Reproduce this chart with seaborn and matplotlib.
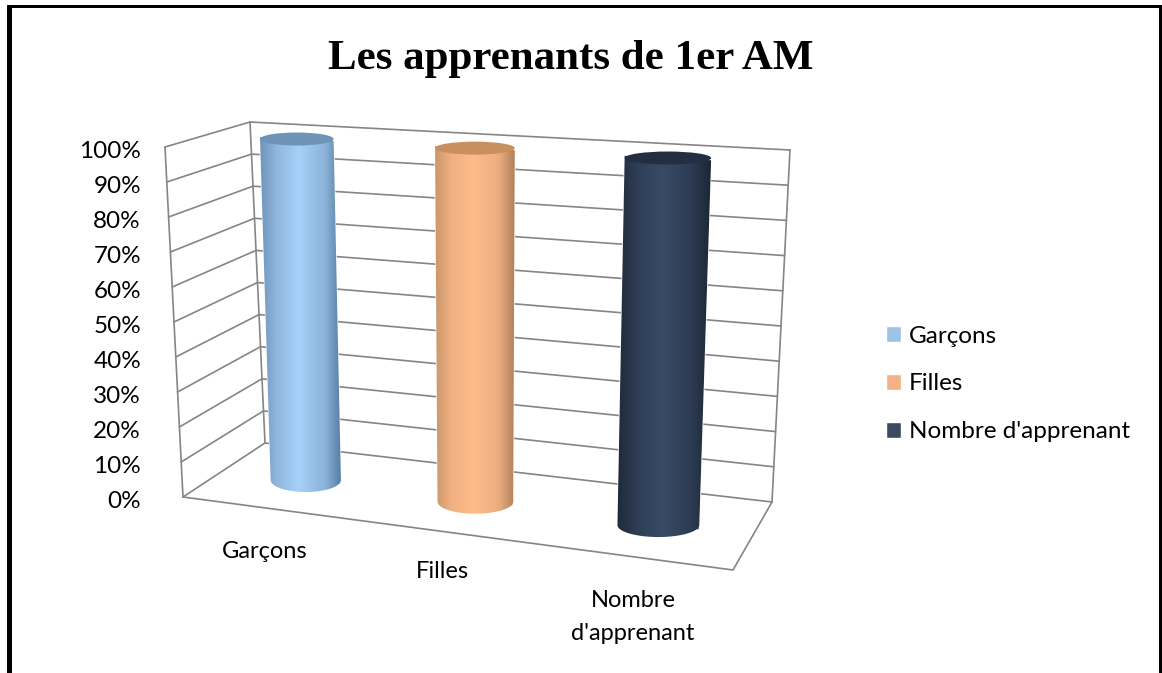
import numpy as np
import pandas as pd
import matplotlib
matplotlib.use('Agg')
import matplotlib.pyplot as plt
import seaborn as sns
from matplotlib.colors import LinearSegmentedColormap
from matplotlib.patches import Ellipse, Polygon
from matplotlib.transforms import Transform

# data
categories = ['Garçons', 'Filles', "Nombre d'apprenant"]
values = [100, 100, 100]
axis_labels = ['Garçons', 'Filles', "Nombre\nd'apprenant"]
grid_levels = [0, 10, 20, 30, 40, 50, 60, 70, 80, 90, 100]
title = 'Les apprenants de 1er AM'

# colours
legend_colors = ['#9DC3E6', '#F4B183', '#3B4A63']
side_colors = [['#6F95BC', '#8FB6DE', '#A6D1F8', '#8DB4DA', '#587FA3'],
               ['#C9976C', '#F0B080', '#FFBC8A', '#EBAD80', '#B08059'],
               ['#1F2A3A', '#2E3D55', '#384B66', '#2C3B52', '#1D2735']]
top_colors = ['#6F93B6', '#C98F5F', '#232F40']
GRID = '#858585'


def solve_h(src, dst):
    # homography from (category, value) to picture pixels
    a, b = [], []
    for (x, y), (u, v) in zip(src, dst):
        a.append([x, y, 1, 0, 0, 0, -u * x, -u * y])
        a.append([0, 0, 0, x, y, 1, -v * x, -v * y])
        b += [u, v]
    return np.append(np.linalg.solve(np.array(a), np.array(b)), 1).reshape(3, 3)


H = solve_h([(0, 0), (2, 0), (0, 100), (2, 100)],
            [(305.5, 480), (658, 525), (296.5, 139), (667.5, 158)])


class Proj(Transform):
    input_dims = 2
    output_dims = 2

    def transform_non_affine(self, xy):
        xy = np.asarray(xy, dtype=float)
        p = np.c_[xy, np.ones(len(xy))] @ H.T
        return p[:, :2] / p[:, 2:]


proj = Proj()

sns.set_theme(style='white')
plt.rcParams['font.family'] = ['Lato', 'DejaVu Sans']
plt.rcParams['text.color'] = 'black'

fig = plt.figure(figsize=(11.62, 6.73), dpi=100)
ax = fig.add_axes([0, 0, 1, 1])

df = pd.DataFrame({'cat': categories, 'val': values})
sns.barplot(data=df, x='cat', y='val', hue='cat', palette=legend_colors,
            width=0.43, saturation=1, ax=ax, legend=True, zorder=3)

# axes now runs in picture pixels, bars go through the projection
trans = proj + ax.transData
for bar in ax.patches:
    bar.set_transform(trans)

# frame around the picture
ax.fill_between([7, 12], 5, 673, color='black', lw=0)
ax.fill_between([7, 1162], 5, 8, color='black', lw=0)
ax.fill_between([1159, 1162], 5, 673, color='black', lw=0)

# walls and floor
fl, bl, br, fr = (183, 497), (265, 443), (772, 502), (733, 570)
tfl, tbl, tbr = (165, 147), (250, 122), (790, 150)
for v in grid_levels:
    t = v / 100
    p0 = np.array(fl) + t * (np.array(tfl) - np.array(fl))
    p1 = np.array(bl) + t * (np.array(tbl) - np.array(bl))
    p2 = np.array(br) + t * (np.array(tbr) - np.array(br))
    ax.plot([p0[0], p1[0], p2[0]], [p0[1], p1[1], p2[1]], color=GRID, lw=1.2, zorder=1)
    ax.text(141, 501.5 - 3.5 * v, f'{v}%', ha='right', va='center', fontsize=17.5, color='black')
ax.plot([tfl[0], fl[0]], [tfl[1], fl[1]], color=GRID, lw=1.2, zorder=1)
ax.plot([tbl[0], bl[0]], [tbl[1], bl[1]], color=GRID, lw=1.2, zorder=1)
ax.plot([tbr[0], br[0]], [tbr[1], br[1]], color=GRID, lw=1.2, zorder=1)
ax.plot([fl[0], fr[0], br[0]], [fl[1], fr[1], br[1]], color=GRID, lw=1.2, zorder=1)

# cylinders built on the bars
for bar, cols, top in zip(ax.patches, side_colors, top_colors):
    x0, x1, h = bar.get_x(), bar.get_x() + bar.get_width(), bar.get_height()
    (bl_, br_, tl_, tr_) = proj.transform(np.array([[x0, 0], [x1, 0], [x0, h], [x1, h]]))
    cb = (bl_ + br_) / 2
    ct = (tl_ + tr_) / 2
    wb = (br_[0] - bl_[0]) / 2
    wt = (tr_[0] - tl_[0]) / 2
    ang = np.linspace(np.pi, 0, 40)
    arc = np.c_[cb[0] + wb * np.cos(ang), cb[1] + 12 * np.sin(ang)]
    verts = np.vstack([[tl_], arc, [tr_]])
    grad = LinearSegmentedColormap.from_list(
        'g', list(zip([0, 0.2, 0.48, 0.8, 1], cols)))
    left, right = min(tl_[0], bl_[0]), max(tr_[0], br_[0])
    im = ax.imshow(np.linspace(0, 1, 128).reshape(1, -1), cmap=grad, aspect='auto',
                   extent=(left, right, cb[1] + 14, ct[1] - 8), zorder=4)
    im.set_clip_path(Polygon(verts, closed=True, transform=ax.transData))
    ax.add_patch(Ellipse(ct, 2 * wt, 13, facecolor=top, edgecolor='none', zorder=5))

ax.set_xlim(0, 1162)
ax.set_ylim(673, 0)
ax.set_axis_off()

ax.text(571, 59, title, ha='center', va='center', fontsize=31, fontweight='bold',
        family='Liberation Serif', color='black')

for lab, (tx, ty) in zip(axis_labels, [(265, 552), (442, 571), (633, 617)]):
    ax.text(tx, ty, lab, ha='center', va='center', fontsize=17, color='black', linespacing=1.65)

sns.move_legend(ax, 'center left', bbox_to_anchor=(879 / 1162, 1 - 384 / 673),
                bbox_transform=fig.transFigure, frameon=False, title=None, fontsize=17.5,
                handlelength=0.62, handleheight=0.62, handletextpad=0.3, labelspacing=1.1,
                borderpad=0.3, borderaxespad=0)

fig.savefig('out.png', dpi=100, facecolor='white')
